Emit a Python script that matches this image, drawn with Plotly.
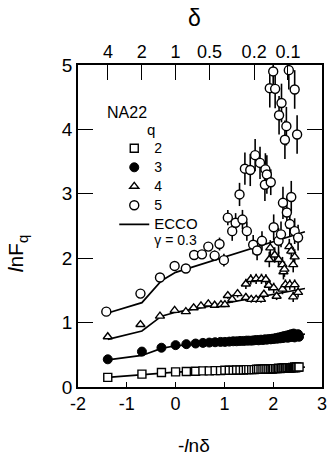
import math
import plotly.graph_objects as go

W, H = 330, 456
L, R, T, B = 78, 3, 65, 69

# ---------------- data ----------------
x_grid = [-1.39, -0.69, -0.29, 0.0, 0.22, 0.41, 0.56, 0.69, 0.81, 0.92,
          1.01, 1.10, 1.18, 1.25, 1.32, 1.39, 1.45, 1.50, 1.56, 1.61,
          1.66, 1.70, 1.75, 1.79, 1.83, 1.87, 1.91, 1.95, 1.98, 2.01,
          2.05, 2.08, 2.11, 2.14, 2.17, 2.20, 2.22, 2.25, 2.28, 2.30,
          2.33, 2.35, 2.37, 2.40, 2.42, 2.44, 2.46, 2.48, 2.51, 2.53]

q2_y = [0.15, 0.20, 0.225, 0.235, 0.24, 0.245, 0.25, 0.25, 0.255, 0.255,
        0.26, 0.26, 0.26, 0.265, 0.265, 0.265, 0.27, 0.27, 0.27, 0.27,
        0.275, 0.275, 0.275, 0.275, 0.28, 0.28, 0.28, 0.28, 0.28, 0.285,
        0.285, 0.285, 0.29, 0.285, 0.29, 0.29, 0.295, 0.29, 0.295, 0.30,
        0.295, 0.30, 0.30, 0.305, 0.30, 0.31, 0.30, 0.31, 0.305, 0.31]

q3_y = [0.43, 0.55, 0.61, 0.65, 0.665, 0.675, 0.685, 0.69, 0.695, 0.70,
        0.70, 0.705, 0.71, 0.71, 0.715, 0.715, 0.72, 0.72, 0.72, 0.725,
        0.73, 0.725, 0.735, 0.73, 0.74, 0.735, 0.745, 0.74, 0.75, 0.745,
        0.76, 0.75, 0.77, 0.755, 0.78, 0.76, 0.79, 0.77, 0.80, 0.765,
        0.81, 0.775, 0.82, 0.78, 0.83, 0.77, 0.81, 0.79, 0.82, 0.78]

q4_x = [-1.39, -0.72, -0.32, -0.02, 0.21, 0.37, 0.52, 0.67, 0.80, 0.93,
        1.01, 1.07, 1.16, 1.27, 1.44, 1.44, 1.54, 1.55, 1.65, 1.65,
        1.75, 1.76, 1.81, 1.85, 1.91, 1.92, 1.94, 2.01, 2.03, 2.07,
        2.11, 2.19, 2.19, 2.21, 2.23, 2.25, 2.33, 2.34, 2.37, 2.41,
        2.41, 2.44, 2.44, 2.51]
q4_y = [0.78, 0.97, 1.10, 1.19, 1.17, 1.23, 1.26, 1.29, 1.27, 1.28,
        1.28, 1.42, 1.36, 1.45, 1.39, 1.60, 1.67, 1.36, 1.68, 1.36,
        1.36, 1.68, 1.44, 1.67, 1.58, 1.98, 2.16, 1.54, 2.05, 1.41,
        1.98, 1.52, 1.90, 1.79, 1.83, 1.59, 2.18, 1.59, 2.11, 1.40,
        1.90, 1.59, 2.02, 1.47]
q4_err = [0, 0, 0, 0, 0, 0, 0, 0, 0, 0,
          0.03, 0.05, 0.05, 0.06, 0.06, 0.08, 0.08, 0.05, 0.08, 0.05,
          0.05, 0.08, 0.06, 0.08, 0.08, 0.12, 0.12, 0.08, 0.12, 0.06,
          0.12, 0.08, 0.12, 0.12, 0.12, 0.08, 0.12, 0.08, 0.12, 0.08,
          0.12, 0.08, 0.12, 0.08]

q5_x = [-1.42, -0.72, -0.32, -0.02, 0.21, 0.38, 0.54, 0.67, 0.80, 0.90,
        0.99, 1.07, 1.16, 1.23, 1.31, 1.37, 1.42, 1.46, 1.53, 1.59,
        1.63, 1.67, 1.73, 1.77, 1.83, 1.84, 1.87, 1.93, 1.95, 2.00,
        2.01, 2.04, 2.11, 2.12, 2.16, 2.17, 2.20, 2.24, 2.27, 2.28,
        2.32, 2.34, 2.37, 2.44, 2.44, 2.49, 2.51]
q5_y = [1.17, 1.45, 1.70, 1.88, 1.84, 2.05, 2.06, 2.18, 2.04, 2.22,
        1.97, 2.63, 2.42, 2.55, 2.99, 2.60, 3.39, 2.42, 3.37, 2.21,
        3.60, 2.12, 3.48, 2.27, 3.14, 3.38, 3.30, 4.64, 3.18, 4.90,
        2.48, 4.63, 2.27, 4.22, 2.37, 4.41, 2.86, 3.84, 4.05, 2.71,
        4.92, 2.53, 2.95, 4.62, 2.42, 3.92, 2.32]
q5_err = [0, 0, 0, 0, 0, 0, 0.05, 0.06, 0.08, 0.10,
          0.10, 0.12, 0.15, 0.15, 0.18, 0.15, 0.25, 0.15, 0.25, 0.15,
          0.25, 0.15, 0.25, 0.15, 0.25, 0.25, 0.30, 0.30, 0.20, 0.30,
          0.20, 0.30, 0.20, 0.30, 0.20, 0.30, 0.25, 0.30, 0.30, 0.25,
          0.30, 0.20, 0.25, 0.30, 0.20, 0.30, 0.20]

ecco_x = [-1.39, -0.69, -0.29, 0.0, 2.65]
ecco_q2 = [0.15, 0.19, 0.215, 0.23, 0.31]
ecco_q3 = [0.42, 0.49, 0.60, 0.64, 0.82]
ecco_q4 = [0.74, 0.87, 1.10, 1.16, 1.53]
ecco_q5 = [1.15, 1.31, 1.65, 1.78, 2.41]

x_ticks = [-2, -1, 0, 1, 2, 3]
x_ticklabels = ["-2", "-1", "0", "1", "2", "3"]
y_ticks = [0, 1, 2, 3, 4, 5]
delta_ticks = [4, 2, 1, 0.5, 0.2, 0.1]
delta_labels = ["4", "2", "1", "0.5", "0.2", "0.1"]

# ---------------- figure ----------------
FONT = "Liberation Sans, Arial, sans-serif"
fig = go.Figure()

lx, ly = [], []
for ys in (ecco_q2, ecco_q3, ecco_q4, ecco_q5):
    lx += ecco_x + [None]
    ly += ys + [None]


def big(s, size=14):
    return "<span style='font-size:%dpx'>%s</span>" % (size, s)


fig.add_trace(go.Scatter(x=lx, y=ly, mode="lines",
                         name=big("ECCO", 15) + "<br>" + big("γ = 0.3", 14),
                         line=dict(color="black", width=1.7), legendrank=5))

fig.add_trace(go.Scatter(x=x_grid, y=q2_y, mode="markers", name=big("2"), legendrank=1,
                         marker=dict(symbol="square", size=8, color="white",
                                     line=dict(color="black", width=1.4))))
fig.add_trace(go.Scatter(x=x_grid, y=q3_y, mode="markers", name=big("3"), legendrank=2,
                         marker=dict(symbol="circle", size=9, color="black",
                                     line=dict(color="black", width=1))))
fig.add_trace(go.Scatter(x=q4_x, y=q4_y, mode="markers", name=big("4"), legendrank=3,
                         error_y=dict(type="data", array=q4_err, visible=True, width=0,
                                      thickness=1.6, color="black"),
                         marker=dict(symbol="triangle-up", size=8, color="white",
                                     line=dict(color="black", width=1.4))))
fig.add_trace(go.Scatter(x=q5_x, y=q5_y, mode="markers", name=big("5"), legendrank=4,
                         error_y=dict(type="data", array=q5_err, visible=True, width=0,
                                      thickness=1.6, color="black"),
                         marker=dict(symbol="circle", size=9, color="white",
                                     line=dict(color="black", width=1.4))))
# empty trace that activates the top (delta) axis
fig.add_trace(go.Scatter(x=[None], y=[None], xaxis="x2", showlegend=False))


def px2x(px):
    return (px - L) / (W - L - R)


def py2y(py):
    return (H - B - py) / (H - T - B)


ax_common = dict(showgrid=False, zeroline=False, color="black",
                 tickfont=dict(family=FONT, size=18, color="black"))

fig.update_layout(
    width=W, height=H,
    margin=dict(l=L, r=R, t=T, b=B),
    paper_bgcolor="white", plot_bgcolor="white",
    font=dict(family=FONT, color="black"),
    xaxis=dict(range=[-2, 3], tickmode="array", tickvals=x_ticks, ticktext=x_ticklabels,
               ticks="inside", ticklen=5, tickwidth=1.3, tickcolor="black",
               showline=True, linecolor="black", linewidth=1.6, mirror=True,
               ticklabeloverflow="allow", **ax_common),
    xaxis2=dict(range=[-2, 3], overlaying="x", side="top", tickmode="array",
                tickvals=[-math.log(d) for d in delta_ticks], ticktext=delta_labels,
                ticks="inside", ticklen=15, tickwidth=1.3, tickcolor="black",
                ticklabelstandoff=2, showline=False, ticklabeloverflow="allow",
                **ax_common),
    yaxis=dict(range=[0, 5], tickmode="array", tickvals=y_ticks,
               ticks="inside", ticklen=15, tickwidth=1.3, tickcolor="black",
               showline=True, linecolor="black", linewidth=1.6, mirror="ticks",
               showgrid=False, zeroline=False, color="black",
               tickfont=dict(family=FONT, size=19, color="black")),
    legend=dict(x=px2x(115), y=py2y(134), xanchor="left", yanchor="top",
                bgcolor="rgba(0,0,0,0)", font=dict(family=FONT, size=12, color="black"),
                valign="top", traceorder="normal", itemwidth=30),
    showlegend=True,
)

ann = [
    dict(text="δ", x=px2x(197), y=py2y(18), size=23),
    dict(text="-<i>l</i>nδ", x=px2x(196), y=py2y(445), size=19),
    dict(text="NA22", x=px2x(128), y=py2y(112), size=16),
    dict(text="q", x=px2x(152), y=py2y(129), size=15),
]
for a in ann:
    fig.add_annotation(text=a["text"], x=a["x"], y=a["y"], xref="paper", yref="paper",
                       showarrow=False, xanchor="center", yanchor="middle",
                       font=dict(family=FONT, size=a["size"], color="black"))
fig.add_annotation(text="<i>l</i>nF<sub>q</sub>", x=px2x(16), y=py2y(254),
                   xref="paper", yref="paper", showarrow=False, textangle=-90,
                   xanchor="center", yanchor="middle",
                   font=dict(family=FONT, size=21, color="black"))

fig.write_html("out.html")
